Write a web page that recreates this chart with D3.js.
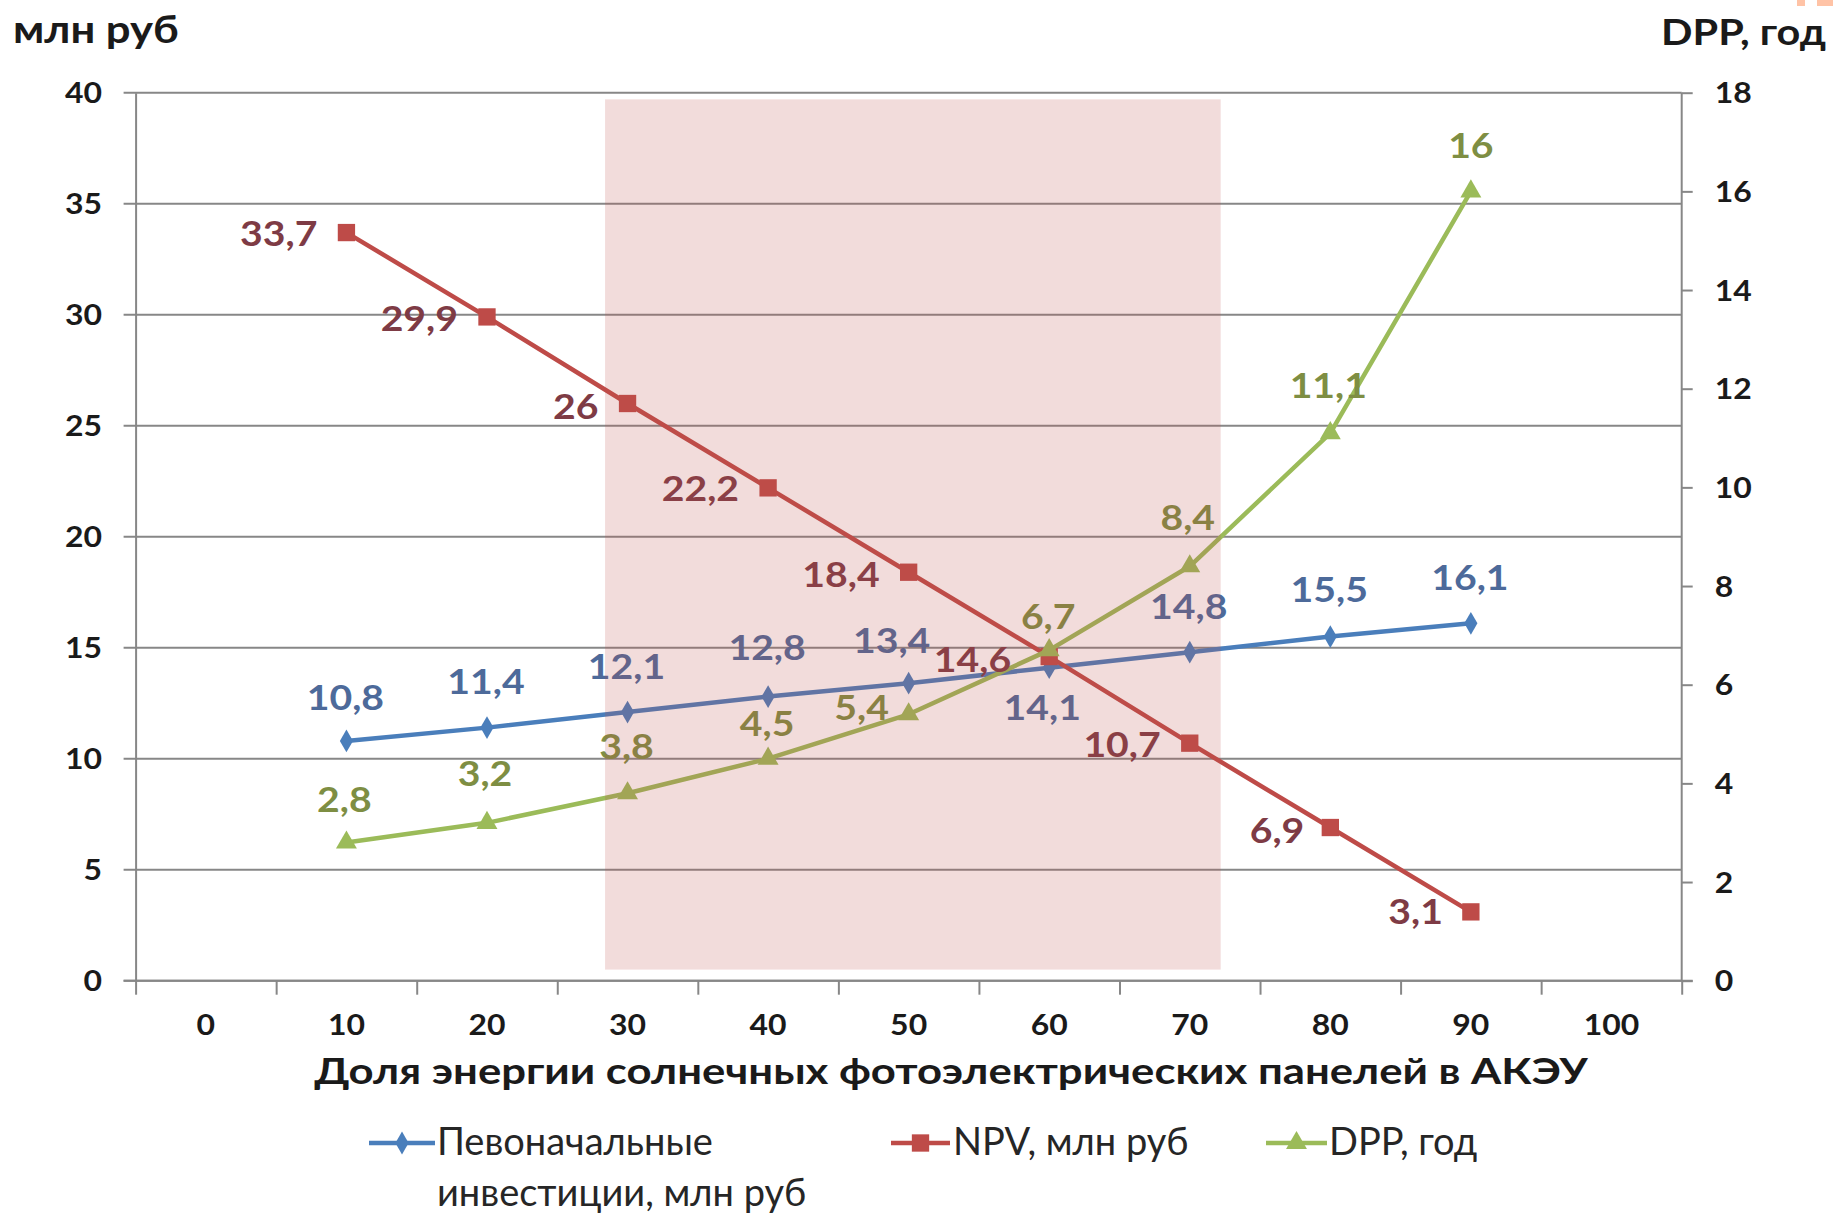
<!DOCTYPE html>
<html lang="ru">
<head>
<meta charset="utf-8">
<title>АКЭУ: инвестиции, NPV и DPP</title>
<script src="https://cdn.jsdelivr.net/npm/d3@7"></script>
<style>
  html, body { margin: 0; padding: 0; background: #fff; }
  svg { display: block; font-family: Lato, "Open Sans", sans-serif; }
</style>
</head>
<body>
<svg id="chart" width="1833" height="1214"></svg>
<script>
// Доля энергии солнечных панелей, %
const shares = [10, 20, 30, 40, 50, 60, 70, 80, 90];
// Первоначальные инвестиции, млн руб
const investment = [10.8, 11.4, 12.1, 12.8, 13.4, 14.1, 14.8, 15.5, 16.1];
// NPV, млн руб
const npv = [33.7, 29.9, 26, 22.2, 18.4, 14.6, 10.7, 6.9, 3.1];
// DPP, лет (правая ось)
const dpp = [2.8, 3.2, 3.8, 4.5, 5.4, 6.7, 8.4, 11.1, 16];

const xTickLabels = [0, 10, 20, 30, 40, 50, 60, 70, 80, 90, 100];
const leftTicks = [0, 5, 10, 15, 20, 25, 30, 35, 40];
const rightTicks = [0, 2, 4, 6, 8, 10, 12, 14, 16, 18];
// Рекомендуемый диапазон доли солнечной энергии (выделение)
const highlightShare = [28.4, 72.2];

const legendNames = ["Певоначальные\nинвестиции, млн руб", "NPV, млн руб", "DPP, год"];

// Label nudges (dx, dy) relative to each marker
const invLabelOffsets = [[-1,-44],[-1,-46],[-1,-46],[-1,-49],[-17,-43],[-7,40],[-1,-46],[-1,-47],[-1,-46]];
const npvLabelOffsets = [[-29,1],[-29,1],[-29,3],[-29,1],[-29,2],[-38,3],[-29,1],[-26,3],[-28,0]];
const dppLabelOffsets = [[-2,-43],[-2,-49],[-1,-47],[-1,-35],[-47,-7],[-1,-34],[-2,-49],[-2,-48],[0,-46]];

const svg = d3.select("#chart");
const L = 135.6, R = 1681.7, T = 92.7, B = 980.7;
const axisColor = "#878787";
const ink = "#1a1a1a";

// Widen glyphs horizontally around the text's own anchor point
function stretch(sel, sx) {
  sel.each(function () {
    const t = d3.select(this);
    const x0 = +t.attr("x") || 0;
    t.attr("x", x0 / sx).attr("transform", `scale(${sx},1)`);
    t.selectAll("tspan").each(function () {
      const ts = d3.select(this);
      if (ts.attr("x") != null) ts.attr("x", +ts.attr("x") / sx);
    });
  });
}

const x = d3.scaleLinear().domain([-5, 105]).range([L, R]);
const yL = d3.scaleLinear().domain([0, 40]).range([B, T]);
const yR = d3.scaleLinear().domain([0, 18]).range([B, T]);

// Gridlines + left axis ticks
svg.append("g").selectAll("line").data(leftTicks).join("line")
  .attr("x1", L - 12).attr("x2", R)
  .attr("y1", d => yL(d)).attr("y2", d => yL(d))
  .attr("stroke", axisColor).attr("stroke-width", 2);

// Left axis
const gL = svg.append("g").attr("transform", `translate(${L},0)`)
  .call(d3.axisLeft(yL).tickValues(leftTicks).tickSize(0).tickPadding(0));
gL.select(".domain").attr("stroke", axisColor).attr("stroke-width", 2);
gL.selectAll("text").attr("x", 102 - L).attr("dy", "0.36em")
  .attr("font-size", 28).attr("font-weight", 700).attr("fill", ink)
  .attr("font-family", "Lato, sans-serif");
stretch(gL.selectAll("text"), 1.14);

// Right axis
const gR = svg.append("g").attr("transform", `translate(${R},0)`)
  .call(d3.axisRight(yR).tickValues(rightTicks).tickSize(11).tickPadding(22));
gR.select(".domain").attr("stroke", axisColor).attr("stroke-width", 2).attr("d", `M0,${T}V${B}`);
gR.selectAll(".tick line").attr("stroke", axisColor).attr("stroke-width", 2);
gR.selectAll("text").attr("font-size", 28).attr("font-weight", 700).attr("fill", ink)
  .attr("font-family", "Lato, sans-serif").attr("dy", "0.36em");
stretch(gR.selectAll("text"), 1.14);

// Bottom axis: ticks between categories, labels at categories
const xBoundaries = d3.range(-5, 106, 10);
const gB = svg.append("g").attr("transform", `translate(0,${B})`)
  .call(d3.axisBottom(x).tickValues(xBoundaries).tickSize(14).tickFormat(""));
gB.select(".domain").attr("stroke", axisColor).attr("stroke-width", 2).attr("d", `M${L - 12},0H${R + 11}`);
gB.selectAll(".tick line").attr("stroke", axisColor).attr("stroke-width", 2);
const xLabels = svg.append("g").selectAll("text").data(xTickLabels).join("text")
  .attr("x", d => x(d)).attr("y", 1035)
  .attr("text-anchor", "middle").attr("font-size", 28).attr("font-weight", 700)
  .attr("fill", ink).text(d => d);
stretch(xLabels, 1.14);

// Axis titles
stretch(svg.append("text").attr("x", 13).attr("y", 43).attr("font-size", 39).attr("font-weight", 700)
  .attr("fill", ink).text("млн руб"), 1.12);
stretch(svg.append("text").attr("x", 1826).attr("y", 45).attr("text-anchor", "end").attr("font-size", 37)
  .attr("font-weight", 700).attr("fill", ink).text("DPP, год"), 1.12);
stretch(svg.append("text").attr("x", 951).attr("y", 1084).attr("text-anchor", "middle").attr("font-size", 37)
  .attr("font-weight", 700).attr("fill", ink)
  .text("Доля энергии солнечных фотоэлектрических панелей в АКЭУ"), 1.18);

// Series
const series = [
  { values: investment, y: yL, color: "#4A7EBB", labelColor: "#4D6A9A", symbol: d3.symbolDiamond, size: 150, offsets: invLabelOffsets, anchor: "middle" },
  { values: npv, y: yL, color: "#BE4B48", labelColor: "#7E3B45", symbol: d3.symbolSquare, size: 300, offsets: npvLabelOffsets, anchor: "end" },
  { values: dpp, y: yR, color: "#9BBB59", labelColor: "#7E8E43", symbol: d3.symbolTriangle, size: 190, offsets: dppLabelOffsets, anchor: "middle" }
];
const fmt = v => String(v).replace(".", ",");

series.forEach(s => {
  const pts = shares.map((sh, i) => [x(sh), s.y(s.values[i])]);
  svg.append("path").datum(pts)
    .attr("d", d3.line())
    .attr("fill", "none").attr("stroke", s.color).attr("stroke-width", 4.5)
    .attr("stroke-linejoin", "round");
  svg.append("g").selectAll("path").data(pts).join("path")
    .attr("transform", d => `translate(${d[0]},${d[1]})`)
    .attr("d", d3.symbol().type(s.symbol).size(s.size))
    .attr("fill", s.color);
});

series.forEach(s => {
  const labels = svg.append("g").selectAll("text").data(s.values).join("text")
    .attr("x", (v, i) => x(shares[i]) + s.offsets[i][0])
    .attr("y", (v, i) => s.y(v) + s.offsets[i][1])
    .attr("dy", "0.36em")
    .attr("text-anchor", s.anchor)
    .attr("font-size", 35).attr("font-weight", 700)
    .attr("fill", s.labelColor)
    .text(fmt);
  stretch(labels, 1.12);
});

// Highlighted share range (translucent overlay)
svg.append("rect")
  .attr("x", x(highlightShare[0])).attr("width", x(highlightShare[1]) - x(highlightShare[0]))
  .attr("y", yL(39.7)).attr("height", yL(0.5) - yL(39.7))
  .attr("fill", "#C0504D").attr("fill-opacity", 0.2);

// Legend
const legendItems = [
  { name: legendNames[0], x1: 369, x2: 435, tx: 437 },
  { name: legendNames[1], x1: 891, x2: 950, tx: 953 },
  { name: legendNames[2], x1: 1266, x2: 1327, tx: 1329 }
];
const ly = 1143;
const lg = svg.append("g");
legendItems.forEach((it, i) => {
  const s = series[i];
  lg.append("line").attr("x1", it.x1).attr("x2", it.x2).attr("y1", ly).attr("y2", ly)
    .attr("stroke", s.color).attr("stroke-width", 4.5);
  lg.append("path").attr("transform", `translate(${(it.x1 + it.x2) / 2},${ly})`)
    .attr("d", d3.symbol().type(s.symbol).size(s.size)).attr("fill", s.color);
  const t = lg.append("text").attr("x", it.tx).attr("y", 1155)
    .attr("font-size", 38).attr("fill", "#262626");
  it.name.split("\n").forEach((line, k) => {
    t.append("tspan").attr("x", it.tx).attr("dy", k === 0 ? 0 : 51).text(line);
  });
});

// Corner accents
svg.append("rect").attr("x", 1797).attr("y", 0).attr("width", 8).attr("height", 6).attr("fill", "#FFC3A6");
svg.append("rect").attr("x", 1817).attr("y", 0).attr("width", 16).attr("height", 6).attr("fill", "#FFC3A6");
</script>
</body>
</html>
